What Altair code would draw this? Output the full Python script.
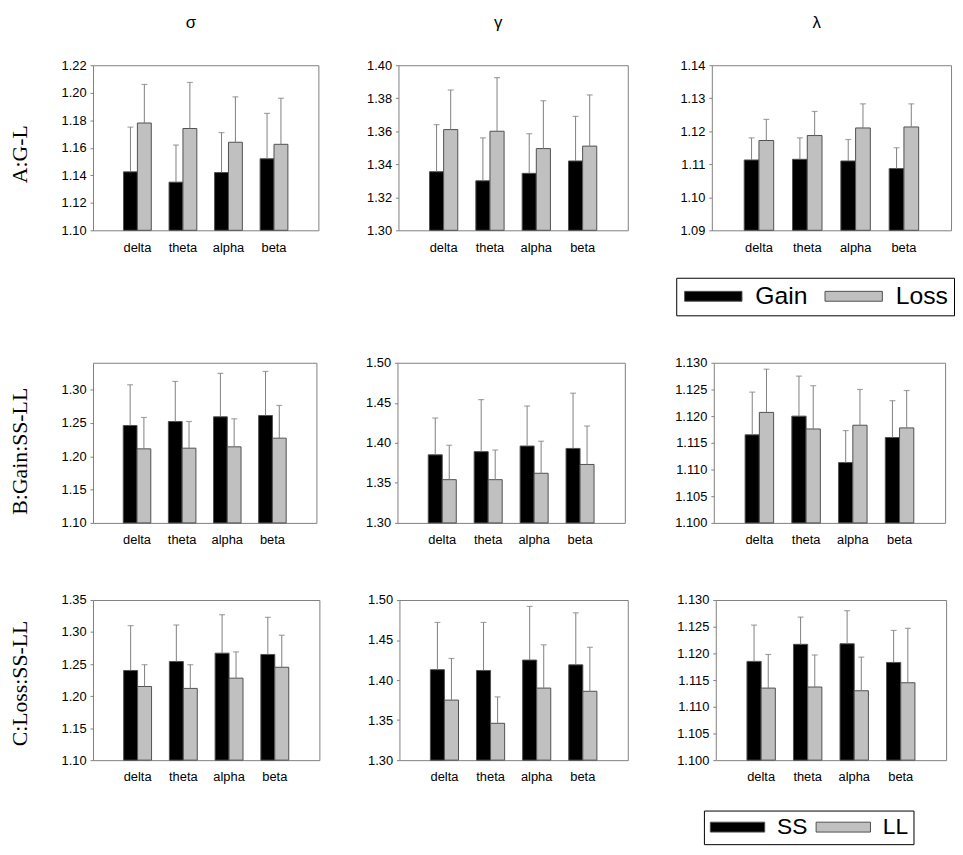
import altair as alt
import pandas as pd

bands = ["delta", "theta", "alpha", "beta"]
groups_A = ["Gain", "Loss"]
groups_BC = ["SS", "LL"]

# ---- Row A : G-L ----
A_sigma_gain = [1.1425, 1.135, 1.142, 1.152]
A_sigma_gain_top = [1.175, 1.162, 1.171, 1.185]
A_sigma_loss = [1.178, 1.174, 1.164, 1.1625]
A_sigma_loss_top = [1.206, 1.2075, 1.197, 1.196]
A_gamma_gain = [1.3355, 1.330, 1.3345, 1.342]
A_gamma_gain_top = [1.364, 1.356, 1.3585, 1.369]
A_gamma_loss = [1.361, 1.360, 1.3495, 1.351]
A_gamma_loss_top = [1.385, 1.3925, 1.3785, 1.382]
A_lambda_gain = [1.1113, 1.1115, 1.1110, 1.1087]
A_lambda_gain_top = [1.1180, 1.1180, 1.1175, 1.1150]
A_lambda_loss = [1.1172, 1.1187, 1.1210, 1.1213]
A_lambda_loss_top = [1.1236, 1.1260, 1.1283, 1.1283]

# ---- Row B : Gain SS-LL ----
B_sigma_ss = [1.246, 1.252, 1.259, 1.261]
B_sigma_ss_top = [1.307, 1.312, 1.324, 1.327]
B_sigma_ll = [1.211, 1.212, 1.214, 1.227]
B_sigma_ll_top = [1.258, 1.252, 1.256, 1.276]
B_gamma_ss = [1.385, 1.389, 1.396, 1.393]
B_gamma_ss_top = [1.431, 1.454, 1.446, 1.462]
B_gamma_ll = [1.354, 1.354, 1.362, 1.373]
B_gamma_ll_top = [1.397, 1.391, 1.402, 1.421]
B_lambda_ss = [1.1165, 1.1200, 1.1113, 1.1160]
B_lambda_ss_top = [1.1245, 1.1275, 1.1173, 1.1229]
B_lambda_ll = [1.1207, 1.1176, 1.1183, 1.1178]
B_lambda_ll_top = [1.1288, 1.1257, 1.1250, 1.1248]

# ---- Row C : Loss SS-LL ----
C_sigma_ss = [1.240, 1.254, 1.267, 1.265]
C_sigma_ss_top = [1.310, 1.311, 1.327, 1.323]
C_sigma_ll = [1.215, 1.212, 1.228, 1.245]
C_sigma_ll_top = [1.249, 1.249, 1.269, 1.295]
C_gamma_ss = [1.413, 1.412, 1.425, 1.419]
C_gamma_ss_top = [1.472, 1.472, 1.492, 1.484]
C_gamma_ll = [1.375, 1.346, 1.390, 1.386]
C_gamma_ll_top = [1.427, 1.379, 1.444, 1.441]
C_lambda_ss = [1.1185, 1.1217, 1.1218, 1.1183]
C_lambda_ss_top = [1.1253, 1.1268, 1.1280, 1.1243]
C_lambda_ll = [1.1135, 1.1137, 1.1130, 1.1145]
C_lambda_ll_top = [1.1198, 1.1197, 1.1193, 1.1247]

# axis ticks
ticks_A_sigma = [1.10, 1.12, 1.14, 1.16, 1.18, 1.20, 1.22]
ticks_A_gamma = [1.30, 1.32, 1.34, 1.36, 1.38, 1.40]
ticks_A_lambda = [1.09, 1.10, 1.11, 1.12, 1.13, 1.14]
ticks_sigma_05 = [1.10, 1.15, 1.20, 1.25, 1.30, 1.35]
ticks_gamma_05 = [1.30, 1.35, 1.40, 1.45, 1.50]
ticks_lambda_005 = [1.100, 1.105, 1.110, 1.115, 1.120, 1.125, 1.130]

col_titles = ["σ", "γ", "λ"]
row_titles = ["A:G-L", "B:Gain:SS-LL", "C:Loss:SS-LL"]

BAR_COLORS = ["#000000", "#c0c0c0"]
GRAY = "#808080"


def make_df(groups, v1, t1, v2, t2):
    return pd.DataFrame({
        "band": bands * 2,
        "group": [groups[0]] * 4 + [groups[1]] * 4,
        "value": v1 + v2,
        "top": t1 + t2,
    })


def panel(df, groups, lo, hi, ticks, fmt, w, h, title=None, row_label=None,
          row_shift=0, legend=None):
    x = alt.X("band:N", sort=bands,
              scale=alt.Scale(domain=bands, paddingInner=0.39, paddingOuter=0.67),
              axis=alt.Axis(title=None, labelAngle=0, ticks=False, domain=False,
                            labelPadding=11))
    xo = alt.XOffset("group:N", sort=groups,
                     scale=alt.Scale(domain=groups, paddingInner=0, paddingOuter=0))
    ax = dict(values=ticks, format=fmt, grid=False, domain=False, tickSize=3,
              tickColor=GRAY, labelPadding=4)
    if row_label:
        ax.update(title=row_label, titleFont="Liberation Serif", titleFontSize=22,
                  titleFontWeight="normal", titleColor="black", titlePadding=29.5,
                  titleY=h / 2 + row_shift)
    else:
        ax.update(title=None)
    yscale = alt.Scale(domain=[lo, hi], zero=False, nice=False)
    yaxis = alt.Axis(**ax)
    color = alt.Color("group:N", sort=groups,
                      scale=alt.Scale(domain=groups, range=BAR_COLORS),
                      legend=legend)
    bars = alt.Chart(df).mark_bar(stroke="#505050", strokeWidth=1).encode(
        x=x, xOffset=xo,
        y=alt.Y("value:Q", scale=yscale, axis=yaxis),
        y2=alt.datum(lo),
        color=color,
    )
    rules = alt.Chart(df).mark_rule(color=GRAY, strokeWidth=1).encode(
        x=x, xOffset=xo,
        y=alt.Y("value:Q", scale=yscale, axis=yaxis),
        y2="top:Q",
    )
    caps = alt.Chart(df).mark_tick(color=GRAY, thickness=1.2, size=6).encode(
        x=x, xOffset=xo,
        y=alt.Y("top:Q", scale=yscale, axis=yaxis),
    )
    ch = alt.layer(bars, rules, caps).properties(width=w, height=h)
    if title:
        ch = ch.properties(title=alt.TitleParams(
            text=title, fontSize=17, font="Liberation Sans", fontWeight="normal",
            color="black", anchor="middle", offset=28, dx=-15))
    return ch


legend_A = alt.Legend(
    orient="none", legendX=-36, legendY=215, direction="horizontal", title=None,
    symbolType="M-1,-0.5H4.8V0.5H-1Z", symbolSize=400, symbolOffset=0,
    labelOffset=49, labelFontSize=25, labelFont="Liberation Sans",
    labelColor="black", strokeColor="black", padding=6, columnPadding=15,
    fillColor="white", symbolStrokeColor="#505050", symbolStrokeWidth=1,
    symbolOpacity=1)

legend_C = alt.Legend(
    orient="none", legendX=-12, legendY=213, direction="horizontal", title=None,
    symbolType="M-1,-0.5H4.5V0.5H-1Z", symbolSize=400, symbolOffset=0,
    labelOffset=46, labelFontSize=23, labelFont="Liberation Sans",
    labelColor="black", strokeColor="black", padding=5, columnPadding=6,
    fillColor="white", symbolStrokeColor="#505050", symbolStrokeWidth=1,
    symbolOpacity=1)

dfA1 = make_df(groups_A, A_sigma_gain, A_sigma_gain_top, A_sigma_loss, A_sigma_loss_top)
dfA2 = make_df(groups_A, A_gamma_gain, A_gamma_gain_top, A_gamma_loss, A_gamma_loss_top)
dfA3 = make_df(groups_A, A_lambda_gain, A_lambda_gain_top, A_lambda_loss, A_lambda_loss_top)
dfB1 = make_df(groups_BC, B_sigma_ss, B_sigma_ss_top, B_sigma_ll, B_sigma_ll_top)
dfB2 = make_df(groups_BC, B_gamma_ss, B_gamma_ss_top, B_gamma_ll, B_gamma_ll_top)
dfB3 = make_df(groups_BC, B_lambda_ss, B_lambda_ss_top, B_lambda_ll, B_lambda_ll_top)
dfC1 = make_df(groups_BC, C_sigma_ss, C_sigma_ss_top, C_sigma_ll, C_sigma_ll_top)
dfC2 = make_df(groups_BC, C_gamma_ss, C_gamma_ss_top, C_gamma_ll, C_gamma_ll_top)
dfC3 = make_df(groups_BC, C_lambda_ss, C_lambda_ss_top, C_lambda_ll, C_lambda_ll_top)


def resolve(c):
    return c.resolve_scale(x="independent", y="independent", color="independent",
                           xOffset="independent").resolve_legend(color="independent")


rowA = resolve(alt.hconcat(
    panel(dfA1, groups_A, 1.10, 1.22, ticks_A_sigma, ".2f", 228, 167,
          title=col_titles[0], row_label=row_titles[0], row_shift=6),
    panel(dfA2, groups_A, 1.30, 1.40, ticks_A_gamma, ".2f", 232, 167,
          title=col_titles[1]),
    panel(dfA3, groups_A, 1.09, 1.14, ticks_A_lambda, ".2f", 242, 167,
          title=col_titles[2], legend=legend_A),
    spacing=47))

rowB = resolve(alt.hconcat(
    panel(dfB1, groups_BC, 1.10, 1.34, ticks_sigma_05[:5], ".2f", 226, 162,
          row_label=row_titles[1], row_shift=8),
    panel(dfB2, groups_BC, 1.30, 1.50, ticks_gamma_05, ".2f", 230, 162),
    panel(dfB3, groups_BC, 1.100, 1.130, ticks_lambda_005, ".3f", 234, 162),
    spacing=48))

rowC = resolve(alt.hconcat(
    panel(dfC1, groups_BC, 1.10, 1.35, ticks_sigma_05, ".2f", 229, 162,
          row_label=row_titles[2], row_shift=3),
    panel(dfC2, groups_BC, 1.30, 1.50, ticks_gamma_05, ".2f", 231, 162),
    panel(dfC3, groups_BC, 1.100, 1.130, ticks_lambda_005, ".3f", 233, 162,
          legend=legend_C),
    spacing=47))

chart = resolve(alt.vconcat(resolve(alt.vconcat(rowA, rowB, spacing=40)), rowC, spacing=46))
chart = chart.properties(
    padding={"left": 0, "top": 0, "right": 0, "bottom": 0}
).configure_view(
    stroke=GRAY, strokeWidth=1
).configure_axis(
    labelFont="Liberation Sans", labelFontSize=13, labelColor="black"
).configure_concat(spacing=40)

chart.save("out.html", embed_options={"renderer": "svg", "actions": False})
